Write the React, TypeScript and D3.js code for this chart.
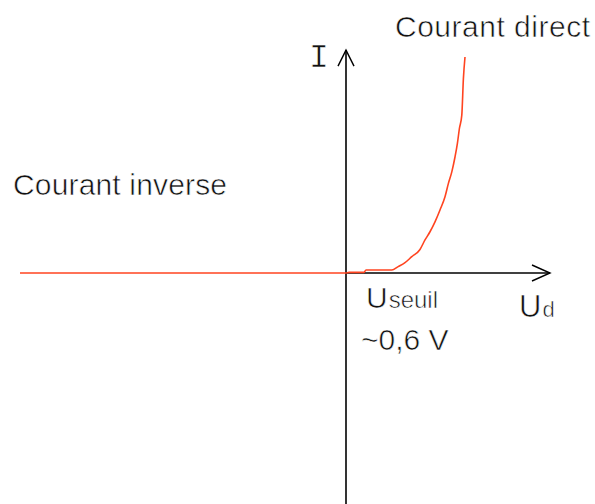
import React from "react";
import * as d3 from "d3";

// Forward characteristic (Ud in V, I in mA, arbitrary units)
const forwardU = [0, 0.015, 0.09, 0.1, 0.229, 0.261, 0.295, 0.329, 0.37, 0.395, 0.42, 0.445, 0.47, 0.495, 0.512, 0.529, 0.545, 0.557, 0.567, 0.579, 0.587, 0.595];
const forwardI = [0, 0.3, 0.3, 1.39, 1.39, 2.93, 4.77, 7.55, 10.9, 15.3, 19.1, 23.7, 29.2, 35.3, 41.5, 46.8, 53.7, 60.0, 66.9, 73.1, 90.0, 100];
// Reverse part (flat current)
const reverseU = [-1.63, 0];
const reverseI = [0, 0];

const xAxisExtent = [0, 1.02];
const yAxisExtent = [-107, 103.2];

const labels = {
  direct: "Courant direct",
  inverse: "Courant inverse",
  yName: "I",
  xMain: "U",
  xSub: "d",
  seuilMain: "U",
  seuilSub: "seuil",
  seuilValue: "~0,6 V",
};

const W = 595;
const H = 504;

export default function App() {
  const x = d3.scaleLinear().domain([0, 1]).range([346, 546]);
  const y = d3.scaleLinear().domain([0, 100]).range([273, 57]);

  const pts: [number, number][] = [
    ...reverseU.map((u, i) => [u, reverseI[i]] as [number, number]),
    ...forwardU.map((u, i) => [u, forwardI[i]] as [number, number]),
  ];
  const line = d3
    .line<[number, number]>()
    .x((d) => x(d[0]))
    .y((d) => y(d[1]))
    .curve(d3.curveMonotoneX);

  const x0 = x(0);
  const y0 = y(0);
  const xEnd = x(xAxisExtent[1]);
  const yTop = y(yAxisExtent[1]);
  const yBot = y(yAxisExtent[0]);

  const font = "'Liberation Sans', Arial, sans-serif";
  const thin = { stroke: "#fff", strokeWidth: 0.6 };

  return (
    <svg
      width={W}
      height={H}
      style={{ position: "absolute", left: 0, top: 0, background: "#fff" }}
    >
      <rect width={W} height={H} fill="#fff" />
      {/* axes */}
      <line x1={x0} y1={yTop} x2={x0} y2={yBot} stroke="#000" strokeWidth={1.6} />
      <line x1={x0} y1={y0} x2={xEnd} y2={y0} stroke="#000" strokeWidth={1.6} />
      {/* arrows */}
      <polyline
        points={`${x0 - 8},${yTop + 16} ${x0},${yTop} ${x0 + 8},${yTop + 16}`}
        fill="none"
        stroke="#000"
        strokeWidth={1.4}
      />
      <polyline
        points={`${xEnd - 18},${y0 - 8} ${xEnd},${y0} ${xEnd - 18},${y0 + 8}`}
        fill="none"
        stroke="#000"
        strokeWidth={1.4}
      />
      {/* curve */}
      <path d={line(pts) || ""} fill="none" stroke="#ff4420" strokeWidth={1.6} />

      {/* texts */}
      <text x={395} y={37} fontFamily={font} fontSize={30} fill="#111" textLength={195} lengthAdjust="spacing" {...thin}>
        {labels.direct}
      </text>
      <text x={13} y={195} fontFamily={font} fontSize={30} fill="#111" textLength={214} lengthAdjust="spacing" {...thin}>
        {labels.inverse}
      </text>
      <text
        x={319}
        y={67}
        fontFamily="'Liberation Mono', 'DejaVu Sans Mono', monospace"
        fontSize={33}
        textAnchor="middle"
        fill="#111"
        {...thin}
      >
        {labels.yName}
      </text>
      <text x={366} y={308} fontFamily={font} fill="#111" {...thin}>
        <tspan fontSize={30}>{labels.seuilMain}</tspan>
        <tspan fontSize={24} dx={1}>{labels.seuilSub}</tspan>
      </text>
      <text x={361} y={350} fontFamily={font} fontSize={30} fill="#111" {...thin}>
        {labels.seuilValue}
      </text>
      <text x={519} y={317} fontFamily={font} fill="#111" {...thin}>
        <tspan fontSize={31}>{labels.xMain}</tspan>
        <tspan fontSize={22} dx={1}>{labels.xSub}</tspan>
      </text>
    </svg>
  );
}
